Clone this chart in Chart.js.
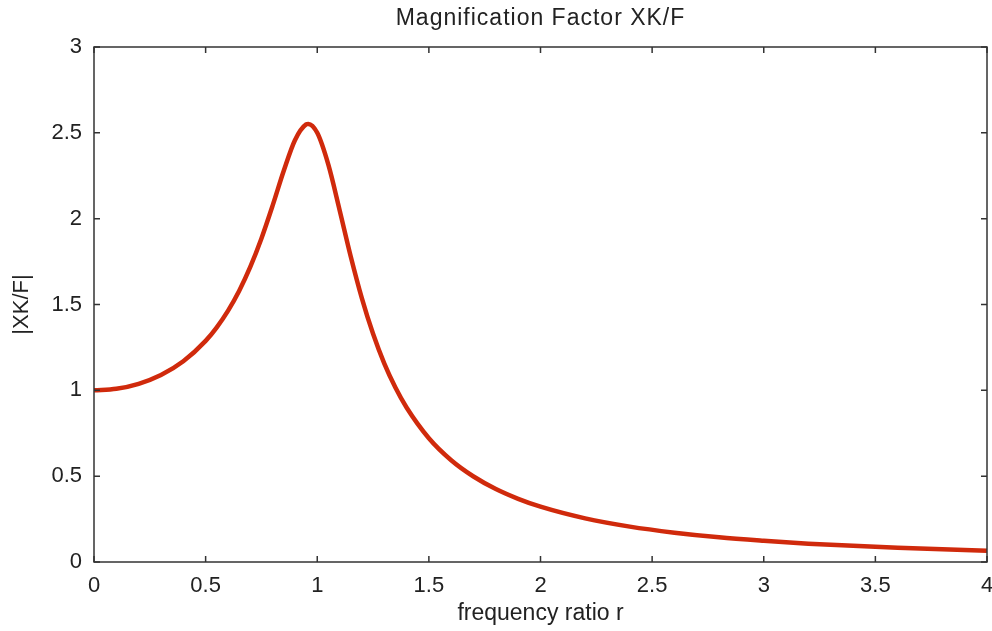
<!DOCTYPE html>
<html>
<head>
<meta charset="utf-8">
<script src="https://cdn.jsdelivr.net/npm/chart.js@4"></script>
<style>
  body { margin: 0; background: #fff; }
  #wrap { width: 992px; height: 631px; position: relative; }
</style>
</head>
<body>
<div id="wrap"><canvas id="magChart"></canvas></div>
<script>
// frequency ratio r
const ratioValues = [0, 0.1, 0.2, 0.3, 0.4, 0.5, 0.55, 0.6, 0.65, 0.7, 0.75, 0.8, 0.85, 0.9, 0.95, 0.96,
  1.0, 1.05, 1.1, 1.15, 1.2, 1.25, 1.3, 1.35, 1.4, 1.5, 1.6, 1.7, 1.8, 1.9, 2.0,
  2.2, 2.4, 2.6, 2.8, 3.0, 3.2, 3.4, 3.6, 3.8, 4.0];
// |XK/F|
const magValues = [1.0, 1.009, 1.038, 1.089, 1.169, 1.288, 1.367, 1.463, 1.579, 1.719, 1.885, 2.076, 2.279, 2.457, 2.549, 2.552,
  2.5, 2.313, 2.051, 1.78, 1.536, 1.329, 1.157, 1.016, 0.9, 0.721, 0.593, 0.498, 0.425, 0.368, 0.322,
  0.254, 0.206, 0.171, 0.144, 0.124, 0.107, 0.094, 0.083, 0.074, 0.066];

const xTickValues = [0, 0.5, 1, 1.5, 2, 2.5, 3, 3.5, 4];
const yTickValues = [0, 0.5, 1, 1.5, 2, 2.5, 3];
const chartTitle = 'Magnification Factor XK/F';

const points = ratioValues.map((r, i) => ({ x: r, y: magValues[i] }));

const fontFam = '"Liberation Sans", Arial, Helvetica, sans-serif';
const inkColor = '#222';

// title centred over the plot, box around plot + inward tick marks (matlab look)
const boxPlugin = {
  id: 'boxTicks',
  afterDraw(chart) {
    const ctx = chart.ctx;
    const a = chart.chartArea;
    const xs = chart.scales.x, ys = chart.scales.y;
    const len = 6;
    ctx.save();
    ctx.fillStyle = inkColor;
    ctx.font = '23px ' + fontFam;
    ctx.letterSpacing = '1px';
    ctx.textAlign = 'center';
    ctx.textBaseline = 'middle';
    ctx.fillText(chartTitle, (a.left + a.right) / 2, 19);
    ctx.letterSpacing = '0px';

    ctx.strokeStyle = '#333';
    ctx.lineWidth = 1.5;
    ctx.strokeRect(a.left, a.top, a.right - a.left, a.bottom - a.top);
    ctx.beginPath();
    xs.ticks.forEach(t => {
      const px = xs.getPixelForValue(t.value);
      ctx.moveTo(px, a.bottom); ctx.lineTo(px, a.bottom - len);
      ctx.moveTo(px, a.top); ctx.lineTo(px, a.top + len);
    });
    ys.ticks.forEach(t => {
      const py = ys.getPixelForValue(t.value);
      ctx.moveTo(a.left, py); ctx.lineTo(a.left + len, py);
      ctx.moveTo(a.right, py); ctx.lineTo(a.right - len, py);
    });
    ctx.stroke();
    ctx.restore();
  }
};

const ctx = document.getElementById('magChart').getContext('2d');
new Chart(ctx, {
  type: 'line',
  data: {
    datasets: [{
      data: points,
      borderColor: '#d02a0c',
      borderWidth: 4.5,
      pointRadius: 0,
      cubicInterpolationMode: 'monotone',
      fill: false
    }]
  },
  options: {
    responsive: true,
    maintainAspectRatio: false,
    animation: false,
    layout: { padding: { left: 4, right: 5, top: 47, bottom: 4 } },
    plugins: {
      legend: { display: false },
      tooltip: { enabled: false },
      title: { display: false }
    },
    scales: {
      x: {
        type: 'linear',
        min: 0,
        max: 4,
        afterBuildTicks: s => { s.ticks = xTickValues.map(v => ({ value: v })); },
        afterFit: s => { s.height = 65; s.paddingLeft = 0; s.paddingRight = 0; },
        grid: { display: false, drawTicks: false },
        border: { display: false },
        ticks: {
          color: inkColor,
          padding: 11,
          maxRotation: 0,
          font: { family: fontFam, size: 22 },
          callback: v => String(v)
        },
        title: {
          display: true,
          text: 'frequency ratio r',
          color: inkColor,
          font: { family: fontFam, size: 23 },
          padding: { top: 0, bottom: 0 }
        }
      },
      y: {
        type: 'linear',
        min: 0,
        max: 3,
        afterBuildTicks: s => { s.ticks = yTickValues.map(v => ({ value: v })); },
        afterFit: s => { s.width = 90; },
        grid: { display: false, drawTicks: false },
        border: { display: false },
        ticks: {
          color: inkColor,
          padding: 12,
          font: { family: fontFam, size: 22 },
          callback: v => String(v)
        },
        title: {
          display: true,
          text: '|XK/F|',
          color: inkColor,
          font: { family: fontFam, size: 22 },
          padding: { top: 5, bottom: 5 }
        }
      }
    }
  },
  plugins: [boxPlugin]
});
</script>
</body>
</html>
